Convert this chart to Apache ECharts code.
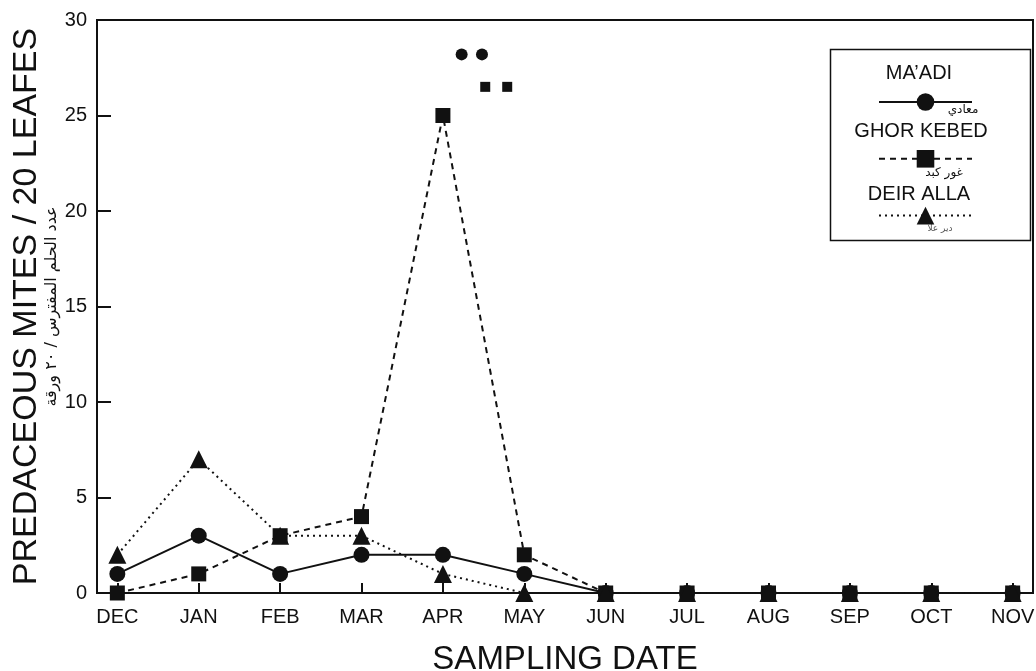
<!DOCTYPE html>
<html>
<head>
<meta charset="utf-8">
<script src="https://cdn.jsdelivr.net/npm/echarts@6/dist/echarts.min.js"></script>
<style>
    html, body { margin:0; padding:0; background:#fff; }
    #chart { width:1036px; height:671px; }
</style>
</head>
<body>
<div id="chart"></div>
<script>

var months = ['DEC','JAN','FEB','MAR','APR','MAY','JUN','JUL','AUG','SEP','OCT','NOV'];
var yTicks = [0, 5, 10, 15, 20, 25, 30];

var maadi     = [1, 3, 1, 2, 2, 1, 0, 0, 0, 0, 0, 0];
var ghorKebed = [0, 1, 3, 4, 25, 2, 0, 0, 0, 0, 0, 0];
var deirAlla  = [2, 7, 3, 3, 1, 0, 0, 0, 0, 0, 0, 0];

// stray marks printed above the APR peak
var strayDots    = [[4.23, 28.2], [4.48, 28.2]];
var straySquares = [[4.52, 26.5], [4.79, 26.5]];

var INK = '#111';
var FONT = '"Liberation Sans", Arial, sans-serif';
var ARFONT = '"DejaVu Sans", sans-serif';

window.fn = {};

fn.pairs = function(vals){
    return vals.map(function(v, i){ return [i, v]; });
}

fn.lineSeries = function(name, vals, symbol, size, type){
    return {
        name: name,
        type: 'line',
        data: fn.pairs(vals),
        symbol: symbol,
        symbolSize: size,
        clip: false,
        itemStyle: {color: INK},
        lineStyle: {color: INK, width: 2, type: type},
        animation: false
    };
}

var chart = echarts.init(document.getElementById('chart'));

var option = {
    animation: false,
    grid: {
        left: 97, right: 3, top: 20, bottom: 78,
        outerBoundsMode: 'none', containLabel: false,
        show: true, borderColor: INK, borderWidth: 2, backgroundColor: 'transparent'
    },
    legend: {
        orient: 'vertical',
        left: 873, top: 86,
        itemWidth: 93, itemHeight: 22, itemGap: 37,
        formatter: function(){ return ''; },
        data: ["MA'ADI", 'GHOR KEBED', 'DEIR ALLA'],
        selectedMode: false
    },
    xAxis: {
        type: 'value',
        min: -0.25, max: 11.25,
        splitLine: {show: false},
        axisLine: {onZero: false, lineStyle: {color: INK, width: 2}},
        axisTick: {
            inside: true, length: 10,
            lineStyle: {color: INK, width: 2},
            customValues: months.map(function(m, i){ return i; })
        },
        axisLabel: {
            customValues: months.map(function(m, i){ return i; }),
            formatter: function(v){ return months[Math.round(v)]; },
            color: INK, fontFamily: FONT, fontSize: 20, margin: 14
        },
        name: 'SAMPLING DATE',
        nameLocation: 'middle',
        nameGap: 50,
        nameTextStyle: {color: INK, fontFamily: FONT, fontSize: 33}
    },
    yAxis: {
        type: 'value',
        min: 0, max: 30, interval: 5,
        splitLine: {show: false},
        axisLine: {show: true, onZero: false, lineStyle: {color: INK, width: 2}},
        axisTick: {show: true, inside: true, length: 14, lineStyle: {color: INK, width: 2}},
        axisLabel: {
            formatter: function(v){ return yTicks.indexOf(v) >= 0 ? String(v) : ''; },
            color: INK, fontFamily: FONT, fontSize: 20, margin: 10
        },
        name: 'PREDACEOUS MITES / 20 LEAFES\n{ar|عدد الحلم المفترس / ٢٠ ورقة}',
        nameLocation: 'middle',
        nameGap: 35,
        nameMoveOverlap: false,
        nameRotate: 90,
        nameTextStyle: {
            color: INK, fontFamily: FONT, fontSize: 34, lineHeight: 30,
            rich: {ar: {fontFamily: ARFONT, fontSize: 16, lineHeight: 20, color: INK}}
        }
    },
    series: [
        fn.lineSeries("MA'ADI", maadi, 'circle', 16, 'solid'),
        fn.lineSeries('GHOR KEBED', ghorKebed, 'rect', 15, [6, 5]),
        fn.lineSeries('DEIR ALLA', deirAlla, 'triangle', 18, [2, 4]),
        {
            type: 'scatter', data: strayDots, symbol: 'circle', symbolSize: 12,
            itemStyle: {color: INK, opacity: 1}, animation: false
        },
        {
            type: 'scatter', data: straySquares, symbol: 'rect', symbolSize: 10,
            itemStyle: {color: INK, opacity: 1}, animation: false
        }
    ],
    graphic: [
        {type: 'rect', left: 828, top: 47, shape: {width: 200, height: 191},
         style: {fill: 'none', stroke: INK, lineWidth: 1.5}},
        {type: 'text', x: 919, y: 73, style: {text: "MA’ADI", font: '20px ' + FONT, fill: INK, align: 'center', verticalAlign: 'middle'}},
        {type: 'text', x: 963, y: 110, style: {text: 'معادي', font: '12px ' + ARFONT, fill: INK, align: 'center', verticalAlign: 'middle'}},
        {type: 'text', x: 921, y: 131, style: {text: 'GHOR KEBED', font: '20px ' + FONT, fill: INK, align: 'center', verticalAlign: 'middle'}},
        {type: 'text', x: 944, y: 173, style: {text: 'غور كبد', font: '12px ' + ARFONT, fill: INK, align: 'center', verticalAlign: 'middle'}},
        {type: 'text', x: 919, y: 194, style: {text: 'DEIR ALLA', font: '20px ' + FONT, fill: INK, align: 'center', verticalAlign: 'middle'}},
        {type: 'text', x: 940, y: 229, style: {text: 'دير علا', font: '9px ' + ARFONT, fill: '#555', align: 'center', verticalAlign: 'middle'}}
    ]
};

chart.setOption(option);

</script>
</body>
</html>
